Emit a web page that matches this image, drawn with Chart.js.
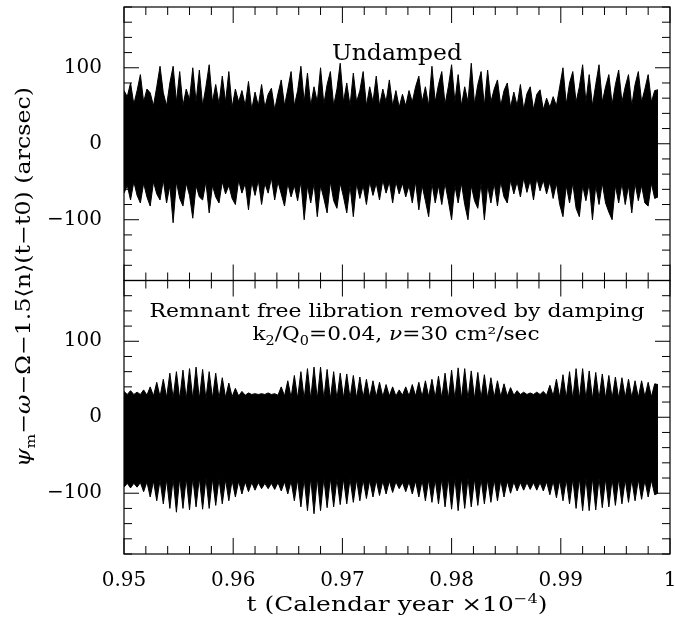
<!DOCTYPE html>
<html><head><meta charset="utf-8">
<script src="https://cdn.jsdelivr.net/npm/chart.js@4.4.1/dist/chart.umd.min.js"></script>
<style>html,body{margin:0;padding:0;background:#fff}#wrap{width:675px;height:622px}</style>
</head><body><div id="wrap"><canvas id="c" width="675" height="622"></canvas></div>
<script>
// sample grid: t = 0.95 + i*0.0003 (Calendar year x 1e-4)
const T_START = 0.95, T_STEP = 0.0003;

// Undamped panel: upper and lower envelope of the libration signal (arcsec)
const undampedUpper = [
70,62,80,52,70,91,55,72,67,50,
75,102,67,50,80,102,55,95,50,72,
58,100,55,97,50,75,104,55,78,52,
89,55,95,48,72,55,70,50,82,45,
68,50,78,48,65,73,45,66,84,50,
72,95,50,70,102,55,93,50,75,55,
100,52,78,95,50,72,106,55,80,50,
93,55,70,95,50,75,55,89,50,72,
55,84,50,70,48,65,50,70,55,75,
89,55,75,50,102,55,78,95,52,75,
104,55,91,50,75,55,106,52,78,95,
50,97,55,72,84,50,70,80,48,68,
50,78,45,66,75,45,65,71,45,60,
48,62,50,75,100,52,80,95,55,75,
104,55,91,50,78,104,55,75,91,52,
78,97,55,75,91,50,78,95,55,72,
91,55,70,71];
const undampedLower = [
-65,-55,-74,-50,-68,-78,-52,-70,-82,-50,
-66,-74,-48,-78,-55,-104,-50,-72,-82,-52,
-68,-98,-55,-70,-74,-50,-91,-55,-70,-78,
-50,-66,-55,-72,-80,-48,-65,-52,-87,-50,
-68,-48,-80,-52,-65,-45,-74,-50,-66,-82,
-52,-70,-55,-75,-50,-100,-55,-78,-52,-96,
-55,-72,-91,-50,-75,-85,-52,-70,-91,-55,
-96,-52,-72,-55,-80,-50,-68,-52,-74,-48,
-65,-50,-78,-50,-66,-52,-70,-55,-78,-50,
-87,-55,-75,-96,-52,-78,-55,-80,-52,-75,
-100,-55,-78,-52,-80,-100,-55,-75,-85,-52,
-100,-55,-78,-52,-82,-50,-70,-78,-48,-66,
-50,-70,-45,-64,-48,-74,-45,-62,-48,-66,
-50,-72,-52,-80,-96,-55,-78,-52,-85,-96,
-55,-75,-52,-100,-55,-80,-52,-78,-90,-100,
-55,-78,-52,-80,-55,-91,-52,-75,-55,-78,
-82,-52,-72,-70];

// Damped panel: upper and lower envelope (arcsec)
const dampedUpper = [
34,30,35,30,33,30,36,29,40,28,
46,27,50,26,58,25,60,24,62,24,
64,24,66,24,63,24,60,25,58,25,
52,26,45,27,38,28,34,29,32,30,
31,30,31,30,32,30,31,29,40,28,
48,26,55,25,60,24,64,24,66,24,
66,24,63,24,60,24,58,25,57,25,
55,25,53,26,50,26,48,27,46,27,
43,28,40,28,36,29,40,28,43,28,
46,27,48,27,50,26,54,25,58,24,
62,24,65,24,64,24,61,24,59,25,
56,25,52,26,48,27,44,28,39,29,
35,30,33,30,32,30,33,30,34,29,
42,28,50,26,56,25,60,24,64,24,
64,24,61,24,59,24,57,25,55,25,
53,25,52,26,50,26,48,26,48,27,
46,27,44,43];
const dampedLower = [
-92,-87,-93,-87,-92,-86,-98,-85,-105,-84,
-110,-83,-114,-82,-120,-81,-125,-80,-120,-80,
-122,-80,-118,-80,-121,-80,-120,-81,-116,-81,
-114,-82,-110,-83,-105,-84,-101,-85,-98,-86,
-96,-86,-94,-87,-94,-87,-95,-86,-97,-85,
-101,-84,-110,-82,-118,-81,-123,-80,-127,-80,
-123,-80,-119,-80,-118,-81,-115,-81,-114,-81,
-112,-82,-110,-82,-107,-83,-105,-83,-103,-84,
-101,-84,-99,-85,-94,-86,-98,-85,-101,-84,
-105,-83,-110,-82,-112,-82,-114,-81,-118,-80,
-121,-80,-123,-80,-120,-80,-118,-81,-116,-81,
-114,-82,-112,-82,-110,-83,-105,-84,-100,-85,
-97,-86,-96,-86,-95,-86,-96,-86,-97,-85,
-102,-84,-106,-83,-110,-82,-114,-81,-120,-80,
-123,-80,-123,-80,-122,-80,-119,-81,-118,-81,
-116,-81,-114,-82,-112,-82,-110,-82,-108,-83,
-105,-83,-102,-100];

const xTickValues = [0.95,0.96,0.97,0.98,0.99,1.0];
const xTickLabels = ['0.95','0.96','0.97','0.98','0.99','1'];
const yTickValues = [-100,0,100];
const yTickLabels = ['\u2212100','0','100'];
const X_MINOR = 0.002, Y_MINOR = 20;
const panelTitleTop = 'Undamped';
const panelTitleBottom = 'Remnant free libration removed by damping';

const SERIF = '"DejaVu Serif", "Liberation Serif", serif';

function toPoints(arr){ return arr.map((v,i)=>({x: T_START + i*T_STEP, y: v})); }

function drawParts(ctx, parts, cx, cy, width, angle){
  ctx.save();
  ctx.translate(cx, cy);
  ctx.rotate(angle || 0);
  let total = 0;
  parts.forEach(p => { ctx.font = p.f; p.w = ctx.measureText(p.t).width; total += p.w; });
  const s = width / total;
  ctx.scale(s, 1);
  let x = -total/2;
  ctx.textBaseline = 'alphabetic'; ctx.textAlign = 'left'; ctx.fillStyle = '#000';
  parts.forEach(p => { ctx.font = p.f; ctx.fillText(p.t, x, p.dy || 0); x += p.w; });
  ctx.restore();
}

const framePlugin = {
  id: 'frame',
  afterDraw(chart){
    const {ctx, chartArea: ca, scales} = chart;
    const xs = scales.x;
    ctx.save();
    ctx.strokeStyle = '#000';
    ctx.lineWidth = 1.2;
    [scales.yT, scales.yB].forEach(ys => {
      ctx.strokeRect(ca.left, ys.top, ca.right - ca.left, ys.bottom - ys.top);
    });
    ctx.lineWidth = 1;
    ctx.beginPath();
    [scales.yT, scales.yB].forEach(ys => {
      for (let v = ys.min; v <= ys.max; v += Y_MINOR) {
        const p = ys.getPixelForValue(v);
        const len = (v % 100 === 0) ? 15 : 8;
        ctx.moveTo(ca.left, p); ctx.lineTo(ca.left + len, p);
        ctx.moveTo(ca.right, p); ctx.lineTo(ca.right - len, p);
      }
      const n = Math.round((xs.max - xs.min) / X_MINOR);
      for (let k = 0; k <= n; k++) {
        const p = xs.getPixelForValue(xs.min + k * X_MINOR);
        const len = (k % 5 === 0) ? 16 : 8;
        ctx.moveTo(p, ys.top); ctx.lineTo(p, ys.top + len);
        ctx.moveTo(p, ys.bottom); ctx.lineTo(p, ys.bottom - len);
      }
    });
    ctx.stroke();
    ctx.restore();
  }
};

const textPlugin = {
  id: 'texts',
  afterDraw(chart){
    const ctx = chart.ctx;
    const ca = chart.chartArea;
    const cx = (ca.left + ca.right) / 2;
    const f = (s, it) => (it ? 'italic ' : '') + s + 'px ' + SERIF;
    drawParts(ctx, [{t: panelTitleTop, f: f(22)}], cx, 60, 130);
    drawParts(ctx, [{t: panelTitleBottom, f: f(18)}], cx, 317, 495);
    drawParts(ctx, [
      {t:'k', f:f(18)}, {t:'2', f:f(12), dy:5}, {t:'/Q', f:f(18)}, {t:'0', f:f(12), dy:5},
      {t:'=0.04, ', f:f(18)}, {t:'\u03bd', f:f(18,true)}, {t:'=30 cm\u00b2/sec', f:f(18)}
    ], cx - 1, 340, 287);
    drawParts(ctx, [
      {t:'\u03c8', f:f(20,true)}, {t:'m', f:f(13), dy:5},
      {t:'\u2212', f:f(20)}, {t:'\u03c9', f:f(20,true)},
      {t:'\u2212\u03a9\u22121.5\u27e8n\u27e9(t\u2212t0) (arcsec)', f:f(20)}
    ], 30, 277, 380, -Math.PI/2);
    drawParts(ctx, [
      {t:'t (Calendar year \u00d710', f:f(20)}, {t:'\u22124', f:f(13), dy:-8}, {t:')', f:f(20)}
    ], cx, 611, 301);
  }
};

const datasetStyle = {
  backgroundColor: '#000', borderColor: '#000', borderWidth: 1,
  pointRadius: 0, tension: 0
};

const yScale = (weight) => ({
  type: 'linear', min: -180, max: 180, position: 'left',
  stack: 'panels', stackWeight: 1, weight: weight,
  ticks: {
    stepSize: 100, autoSkip: false, color: '#000', padding: 14,
    font: {family: SERIF, size: 20},
    callback: (v) => { const k = yTickValues.indexOf(v); return k >= 0 ? yTickLabels[k] : ''; }
  },
  grid: {display: false}, border: {display: false},
  afterFit: (s) => { s.width = 124; s.paddingTop = 0; s.paddingBottom = 0; }
});

new Chart(document.getElementById('c'), {
  type: 'line',
  data: {
    datasets: [
      Object.assign({data: toPoints(undampedUpper), yAxisID: 'yT', fill: '+1'}, datasetStyle),
      Object.assign({data: toPoints(undampedLower), yAxisID: 'yT', fill: false}, datasetStyle),
      Object.assign({data: toPoints(dampedUpper), yAxisID: 'yB', fill: '+1'}, datasetStyle),
      Object.assign({data: toPoints(dampedLower), yAxisID: 'yB', fill: false}, datasetStyle)
    ]
  },
  options: {
    responsive: false, animation: false, devicePixelRatio: 1,
    layout: {padding: {left: 0, right: 5, top: 7, bottom: 0}},
    plugins: {legend: {display: false}, tooltip: {enabled: false}},
    scales: {
      x: {
        type: 'linear', min: 0.95, max: 1.0, position: 'bottom',
        ticks: {
          stepSize: 0.01, autoSkip: false, maxRotation: 0, color: '#000', padding: 7,
          font: {family: SERIF, size: 20},
          callback: (v) => {
            const k = xTickValues.findIndex(t => Math.abs(t - v) < 1e-6);
            return k >= 0 ? xTickLabels[k] : '';
          }
        },
        grid: {display: false}, border: {display: false},
        afterFit: (s) => { s.height = 68; s.paddingLeft = 0; s.paddingRight = 0; }
      },
      yT: yScale(1),
      yB: yScale(0)
    }
  },
  plugins: [framePlugin, textPlugin]
});
</script>
</body></html>
